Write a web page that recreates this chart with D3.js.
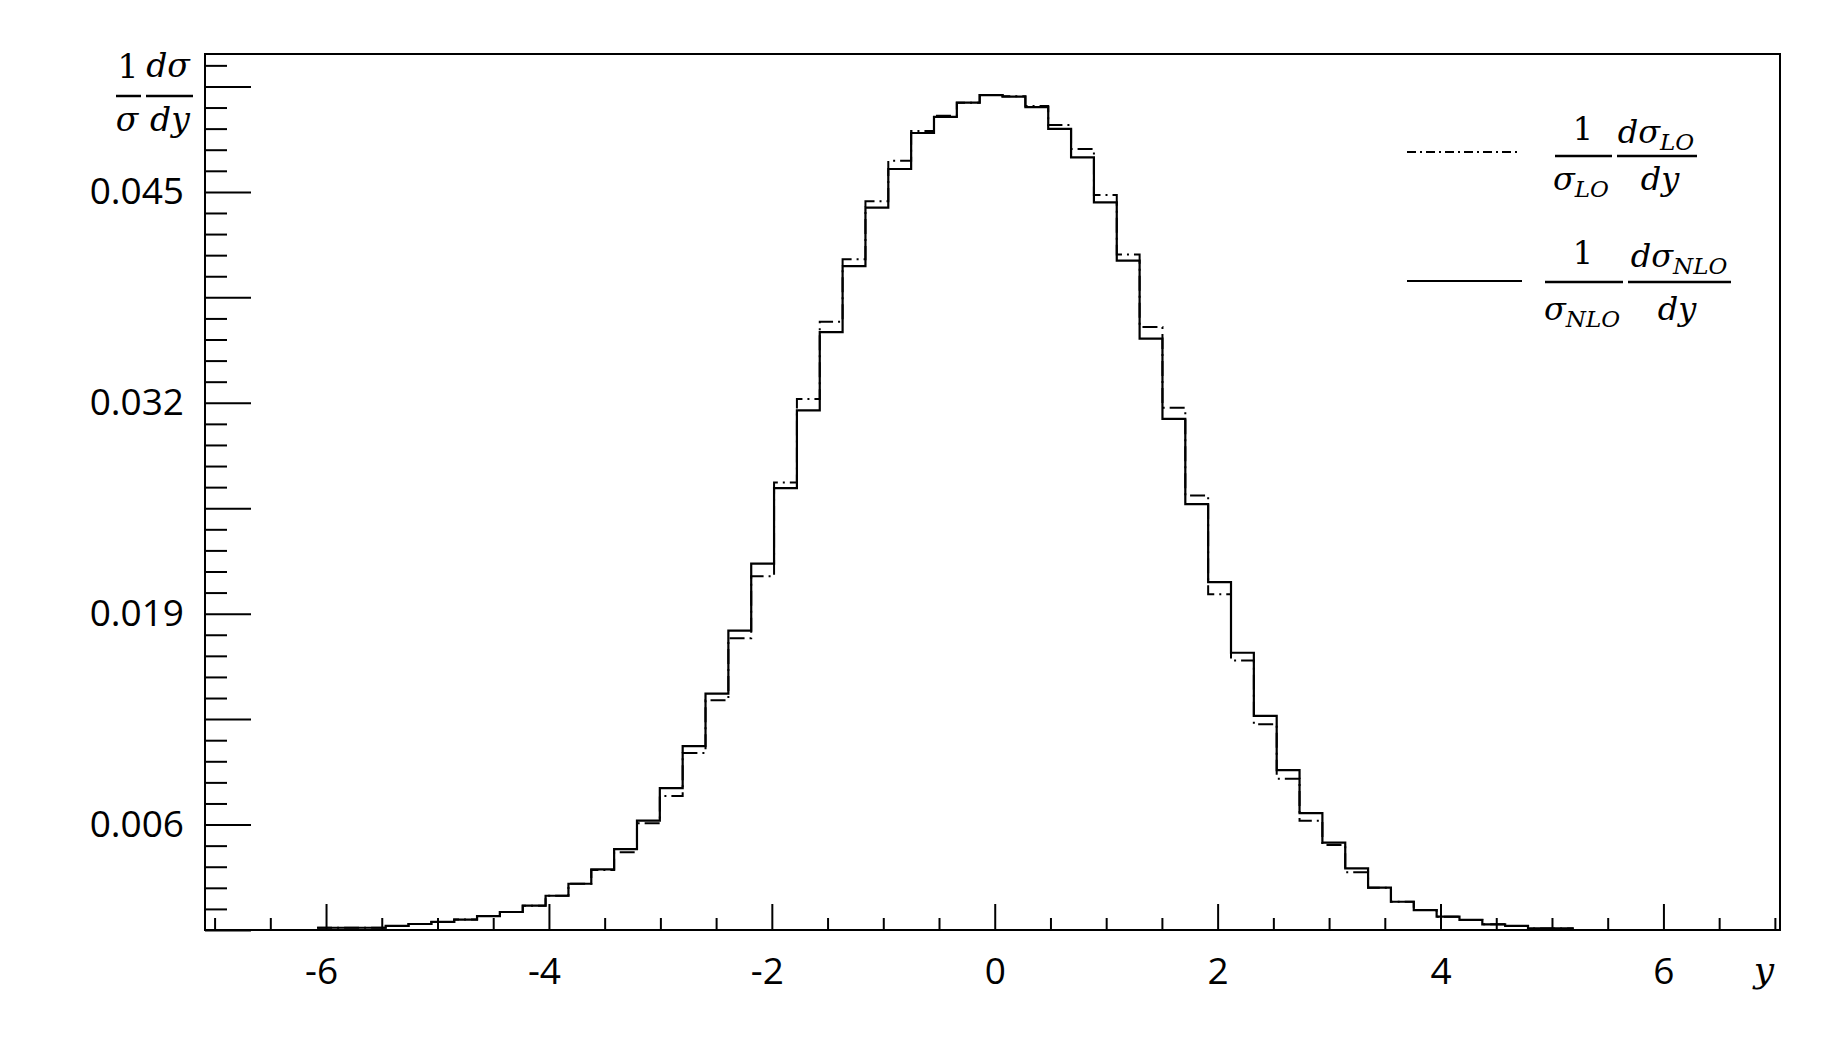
<!DOCTYPE html>
<html>
<head>
<meta charset="utf-8">
<script src="https://cdn.jsdelivr.net/npm/d3@7"></script>
<style>
body { margin: 0; background: #fff; }
svg { display: block; }
.lbl { font-family: "Open Sans", sans-serif; font-size: 37px; fill: #000; }
.math { font-family: "DejaVu Serif", serif; font-style: italic; fill: #000; }
.up { font-family: "DejaVu Serif", serif; fill: #000; }
</style>
</head>
<body>
<svg id="chart" width="1844" height="1048"></svg>
<script>
// histogram binning
let binStart = -6.08;
let binWidth = 0.205;

// 1/sigma_NLO dsigma_NLO/dy, solid line
let nloValues = [
  -0.00036, -0.00036, -0.00036, -0.00025, -0.00013, 0.00000, 0.00014, 0.00036, 0.00061, 0.00100,
  0.00161, 0.00235, 0.00324, 0.00449, 0.00624, 0.00824, 0.01084, 0.01407, 0.01796, 0.02209,
  0.02674, 0.03153, 0.03636, 0.04042, 0.04403, 0.04641, 0.04863, 0.04962, 0.05050, 0.05097,
  0.05087, 0.05023, 0.04888, 0.04713, 0.04435, 0.04076, 0.03596, 0.03101, 0.02575, 0.02095,
  0.01659, 0.01270, 0.00935, 0.00671, 0.00488, 0.00330, 0.00211, 0.00124, 0.00073, 0.00032,
  0.00012, -0.00015, -0.00025, -0.00040, -0.00040
];

// 1/sigma_LO dsigma_LO/dy, dash-dot line
let loValues = [
  -0.00036, -0.00036, -0.00036, -0.00025, -0.00013, 0.00000, 0.00014, 0.00036, 0.00061, 0.00100,
  0.00161, 0.00235, 0.00320, 0.00429, 0.00608, 0.00776, 0.01041, 0.01367, 0.01749, 0.02131,
  0.02709, 0.03223, 0.03700, 0.04085, 0.04443, 0.04692, 0.04875, 0.04970, 0.05050, 0.05097,
  0.05090, 0.05030, 0.04912, 0.04765, 0.04481, 0.04114, 0.03667, 0.03169, 0.02629, 0.02020,
  0.01612, 0.01218, 0.00883, 0.00624, 0.00474, 0.00306, 0.00211, 0.00124, 0.00073, 0.00032,
  0.00012, -0.00015, -0.00025, -0.00040, -0.00040
];

let xTickLabels = [-6, -4, -2, 0, 2, 4, 6];
let yTickLabels = [0.006, 0.019, 0.032, 0.045];

let frame = {left: 205, top: 54, right: 1780, bottom: 930};
let svg = d3.select('#chart');

let x = d3.scaleLinear().domain([-7.086, 7.046]).range([frame.left, frame.right]);
let y = d3.scaleLinear().domain([-0.0005, 0.0535]).range([frame.bottom, frame.top]);

//y axis ticks: long every 0.0065, short every 0.0013
let yMajor = d3.range(0, 9).map(i => -0.0005 + i * 0.0065);
let yMinor = d3.range(0, 42).map(i => -0.0005 + i * 0.0013).filter((v, i) => i % 5 != 0);

let isLabelled = v => yTickLabels.some(l => Math.abs(l - v) < 1e-6);

let yMinorAxis = svg.append('g').attr('transform', 'translate(' + frame.left + ',0)')
  .call(d3.axisLeft(y).tickValues(yMinor).tickSize(-22).tickFormat(''));
let yMajorAxis = svg.append('g').attr('transform', 'translate(' + frame.left + ',0)')
  .call(d3.axisLeft(y).tickValues(yMajor).tickSize(-46).tickPadding(21)
    .tickFormat(v => isLabelled(v) ? d3.format('.3f')(v) : ''));

//x axis ticks: long every 2, short every 0.5
let xMinor = d3.range(-14, 15).map(i => i * 0.5).filter(v => v % 2 != 0);
let xMinorAxis = svg.append('g').attr('transform', 'translate(0,' + frame.bottom + ')')
  .call(d3.axisBottom(x).tickValues(xMinor).tickSize(-12).tickFormat(''));
let xMajorAxis = svg.append('g').attr('transform', 'translate(0,' + frame.bottom + ')')
  .call(d3.axisBottom(x).tickValues(xTickLabels).tickSize(-26).tickPadding(28)
    .tickFormat(d3.format('d')));

svg.selectAll('.domain').remove();
svg.selectAll('.tick line').attr('stroke', '#000').attr('stroke-width', 2);
svg.selectAll('.tick text').attr('class', 'lbl').attr('font-size', null).attr('font-family', null);
xMajorAxis.selectAll('.tick text').text(d => d < 0 ? '-' + Math.abs(d) : d)
  .attr('dx', d => d < 0 ? -5 : 0);

//histograms
let stepLine = d3.line().x(d => x(d[0])).y(d => y(d[1])).curve(d3.curveStepAfter);
let toSteps = vals => {
  let pts = vals.map((v, i) => [binStart + i * binWidth, v]);
  pts.push([binStart + vals.length * binWidth, vals[vals.length - 1]]);
  return pts;
};

svg.append('path').attr('d', stepLine(toSteps(loValues)))
  .attr('fill', 'none').attr('stroke', '#000').attr('stroke-width', 2)
  .attr('stroke-dasharray', '15,5,2,5');
svg.append('path').attr('d', stepLine(toSteps(nloValues)))
  .attr('fill', 'none').attr('stroke', '#000').attr('stroke-width', 2.2);

//frame
svg.append('rect').attr('x', frame.left).attr('y', frame.top)
  .attr('width', frame.right - frame.left).attr('height', frame.bottom - frame.top)
  .attr('fill', 'none').attr('stroke', '#000').attr('stroke-width', 2);

//axis titles
let bar = (x0, x1, yy) => svg.append('line').attr('x1', x0).attr('x2', x1).attr('y1', yy).attr('y2', yy)
  .attr('stroke', '#000').attr('stroke-width', 2.5);

let yt = 33;
svg.append('text').attr('class', 'up').attr('x', 128).attr('y', 78).attr('text-anchor', 'middle')
  .attr('font-size', yt).text('1');
svg.append('text').attr('class', 'math').attr('x', 168).attr('y', 77).attr('text-anchor', 'middle')
  .attr('font-size', yt).text('dσ');
bar(116, 141, 96);
bar(146, 193, 96);
svg.append('text').attr('class', 'math').attr('x', 127).attr('y', 131).attr('text-anchor', 'middle')
  .attr('font-size', yt).text('σ');
svg.append('text').attr('class', 'math').attr('x', 170).attr('y', 131).attr('text-anchor', 'middle')
  .attr('font-size', yt).text('dy');

svg.append('text').attr('class', 'math').attr('x', 1764).attr('y', 982).attr('text-anchor', 'middle')
  .attr('font-size', 36).text('y');

//legend
let lt = 32;
let sub = (t, s, xx, yy, anchor) => {
  let el = svg.append('text').attr('class', 'math').attr('x', xx).attr('y', yy)
    .attr('text-anchor', anchor).attr('font-size', lt);
  el.append('tspan').text(t);
  el.append('tspan').attr('dy', 7).attr('font-size', 23).text(s);
};

svg.append('line').attr('x1', 1407).attr('x2', 1520).attr('y1', 152).attr('y2', 152)
  .attr('stroke', '#000').attr('stroke-width', 2).attr('stroke-dasharray', '9,4,2,4');
svg.append('text').attr('class', 'up').attr('x', 1583).attr('y', 140).attr('text-anchor', 'middle')
  .attr('font-size', lt).text('1');
bar(1555, 1612, 156);
sub('σ', 'LO', 1581, 190, 'middle');
sub('dσ', 'LO', 1656, 143, 'middle');
bar(1617, 1697, 156);
svg.append('text').attr('class', 'math').attr('x', 1660).attr('y', 190).attr('text-anchor', 'middle')
  .attr('font-size', lt).text('dy');

svg.append('line').attr('x1', 1407).attr('x2', 1522).attr('y1', 281).attr('y2', 281)
  .attr('stroke', '#000').attr('stroke-width', 2);
svg.append('text').attr('class', 'up').attr('x', 1583).attr('y', 264).attr('text-anchor', 'middle')
  .attr('font-size', lt).text('1');
bar(1545, 1623, 282);
sub('σ', 'NLO', 1582, 320, 'middle');
sub('dσ', 'NLO', 1679, 267, 'middle');
bar(1628, 1731, 282);
svg.append('text').attr('class', 'math').attr('x', 1677).attr('y', 320).attr('text-anchor', 'middle')
  .attr('font-size', lt).text('dy');
</script>
</body>
</html>
